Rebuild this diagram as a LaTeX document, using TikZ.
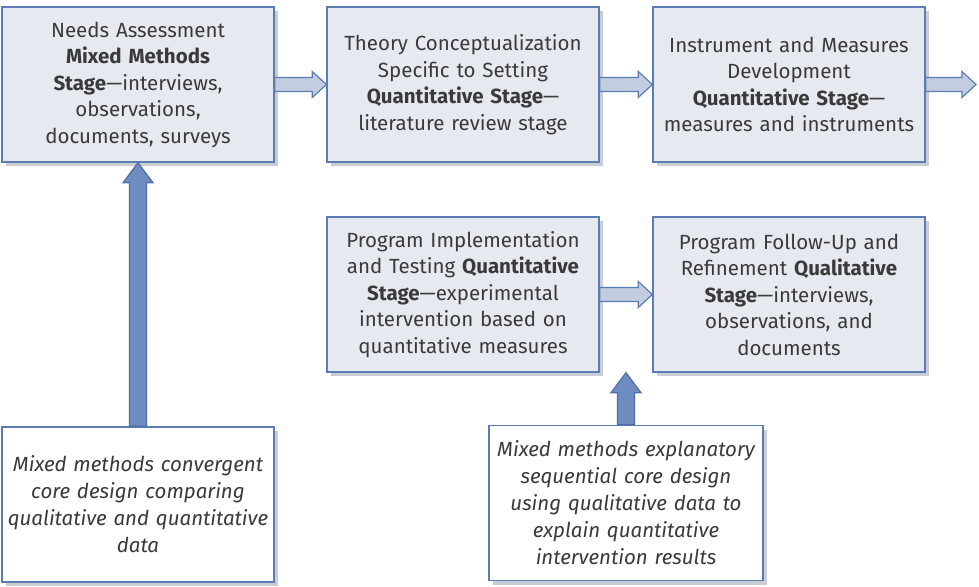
\documentclass[tikz,border=0pt]{standalone}
\usepackage{fontspec}
\setmainfont{Fira Sans}
\usepackage{tikz}
\usetikzlibrary{calc, shadows}

\definecolor{boxline}{HTML}{5B7DB3}
\definecolor{boxfill}{HTML}{E6E9F0}
\definecolor{shadowgray}{HTML}{C9CDD6}
\definecolor{harrowfill}{HTML}{C4CDE0}
\definecolor{varrowfill}{HTML}{6E8CC0}
\definecolor{varrowline}{HTML}{4F6FA6}
\definecolor{textgray}{HTML}{3A3A3A}

\begin{document}
\begin{tikzpicture}[x=1pt, y=-1pt,
      every node/.style={font=\fontsize{20.5}{26.5}\selectfont, text=textgray},
      stage/.style={rectangle, draw=boxline, line width=1.4pt, fill=boxfill, minimum width=272pt, minimum height=155pt, inner sep=2pt, text width=266pt, align=center,
        drop shadow={shadow xshift=4pt, shadow yshift=-4pt, fill=shadowgray, opacity=1}},
      design/.style={stage, fill=white, font=\fontsize{20.5}{27}\selectfont\itshape},
      harrow/.style={draw=boxline, line width=1.2pt, fill=harrowfill, line join=miter},
      varrow/.style={draw=varrowline, line width=1.2pt, fill=varrowfill, line join=miter}]

      \useasboundingbox (0,0) rectangle (979,586);

      % Stages
      \node[stage] (need) at (138,84.5) {Needs Assessment\\\textbf{Mixed Methods}\\\textbf{Stage}\textemdash interviews,\\observations,\\documents, surveys};
      \node[stage] (theory) at (463,84.5) {Theory Conceptualization\\Specific to Setting\\\textbf{Quantitative Stage}\textemdash\\literature review stage};
      \node[stage] (instr) at (789,84.5) {Instrument and Measures\\Development\\\textbf{Quantitative Stage}\textemdash\\measures and instruments};
      \node[stage] (impl) at (463,294.5) {Program Implementation\\and Testing \textbf{Quantitative}\\\textbf{Stage}\textemdash experimental\\intervention based on\\quantitative measures};
      \node[stage] (follow) at (789,294.5) {Program Follow-Up and\\Refinement \textbf{Qualitative}\\\textbf{Stage}\textemdash interviews,\\observations, and\\documents};

      % Core designs
      \node[design] (conv) at (138,504.5) {Mixed methods convergent\\core design comparing\\qualitative and quantitative\\data};
      \node[design, minimum width=274pt] (expl) at (626,503) {Mixed methods explanatory\\sequential core design\\using qualitative data to\\explain quantitative\\intervention results};

      \coordinate (outend) at (976,84.5);
      \coordinate (gapend) at ($(impl.south east)!0.5!(follow.south west)$);

      % Block arrows between stages
      \foreach \a/\b in {need.east/theory.west, theory.east/instr.west, instr.east/outend, impl.east/follow.west} {
        \draw[harrow] ($(\a)+(0,-7)$) -- ($(\b)+(-14,-7)$) -- ($(\b)+(-14,-13)$) -- (\b)
          -- ($(\b)+(-14,13)$) -- ($(\b)+(-14,7)$) -- ($(\a)+(0,7)$) -- cycle;
      }

      % Block arrows from designs
      \foreach \a/\b in {conv.north/need.south, expl.north/gapend} {
        \draw[varrow] ($(\a)+(-8.5,0)$) -- ($(\b)+(-8.5,20)$) -- ($(\b)+(-15,20)$) -- (\b)
          -- ($(\b)+(15,20)$) -- ($(\b)+(8.5,20)$) -- ($(\a)+(8.5,0)$) -- cycle;
      }
\end{tikzpicture}
\end{document}
